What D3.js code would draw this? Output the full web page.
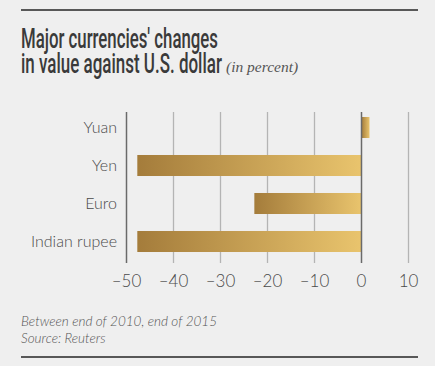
<!doctype html>
<html>
  <head>
    <meta charset="utf-8">
    <title>Major currencies' changes</title>
    <style>
      body { margin: 0; background: #efefef; }
      svg { display: block; }
      .cat { font-family: Lato, "Open Sans", sans-serif; font-weight: 300; font-size: 16px; fill: #4a4a4a; }
      .tick-label { font-family: Lato, "Open Sans", sans-serif; font-weight: 300; font-size: 17px; fill: #4a4a4a; }
      .note { font-family: Lato, "Open Sans", sans-serif; font-style: italic; font-weight: 300; font-size: 13.5px; fill: #555; }
    </style>
  </head>
  <body>
    <div id="chart"></div>
    <script src="https://cdn.jsdelivr.net/npm/d3@7"></script>
    <script>
      var currencies = ['Yuan', 'Yen', 'Euro', 'Indian rupee'];
      var changes = [1.7, -47.7, -22.8, -47.7];
      var tickValues = [-50, -40, -30, -20, -10, 0, 10];
      var titleLines = ["Major currencies' changes", "in value against U.S. dollar"];
      var notes = ['Between end of 2010, end of 2015', 'Source: Reuters'];

      var width = 435, height = 366;

      var svg = d3.select('#chart').append('svg')
        .attr('width', width)
        .attr('height', height);

      svg.append('rect').attr('width', width).attr('height', height).attr('fill', '#efefef');

      // top and bottom rules
      svg.append('rect').attr('x', 21).attr('y', 9).attr('width', 397).attr('height', 2).attr('fill', '#585858');
      svg.append('rect').attr('x', 21).attr('y', 356).attr('width', 397).attr('height', 2).attr('fill', '#585858');

      // title, squeezed horizontally to fake a condensed face
      var titleWidths = [197, 201];
      titleLines.forEach(function(line, i) {
        var g = svg.append('g');
        var t = g.append('text')
          .attr('x', 0)
          .attr('y', 0)
          .attr('font-family', 'Roboto, sans-serif')
          .attr('font-weight', 500)
          .attr('font-size', 27)
          .attr('fill', '#3a3a3a')
          .text(line);
        var w = t.node().getComputedTextLength();
        g.attr('transform', 'translate(21,' + (47.5 + i * 25) + ') scale(' + (titleWidths[i] / w) + ',1)');
      });

      svg.append('text')
        .attr('x', 226)
        .attr('y', 72)
        .attr('font-family', '"Liberation Serif", serif')
        .attr('font-style', 'italic')
        .attr('font-size', 15.5)
        .attr('fill', '#555')
        .text('(in percent)');

      var x = d3.scaleLinear().domain([-50, 10]).range([126.5, 408.5]);
      var y = d3.scaleBand().domain(currencies).range([108.5, 260.5])
        .paddingInner(0.447).paddingOuter(0.2235);

      var gridTop = 112, gridBottom = 263;

      var defs = svg.append('defs');
      var grad = defs.append('linearGradient').attr('id', 'gold').attr('x1', '0%').attr('x2', '100%');
      grad.append('stop').attr('offset', '0%').attr('stop-color', '#a47c3b');
      grad.append('stop').attr('offset', '100%').attr('stop-color', '#e9c46d');

      // light grid lines
      svg.append('g').selectAll('line')
        .data(tickValues.filter(function(v) { return v !== -50 && v !== 0; }))
        .enter().append('line')
        .attr('x1', function(d) { return x(d); })
        .attr('x2', function(d) { return x(d); })
        .attr('y1', gridTop).attr('y2', gridBottom)
        .attr('stroke', '#b4b4b4').attr('stroke-width', 1.3);

      svg.append('g').selectAll('rect')
        .data(changes)
        .enter().append('rect')
        .attr('x', function(d) { return x(Math.min(0, d)); })
        .attr('y', function(d, i) { return y(currencies[i]); })
        .attr('width', function(d) { return Math.abs(x(d) - x(0)); })
        .attr('height', y.bandwidth())
        .attr('fill', 'url(#gold)');

      // dark lines at -50 and 0
      svg.append('g').selectAll('line')
        .data([-50, 0])
        .enter().append('line')
        .attr('x1', function(d) { return x(d); })
        .attr('x2', function(d) { return x(d); })
        .attr('y1', gridTop).attr('y2', gridBottom)
        .attr('stroke', '#6a6a6a').attr('stroke-width', 1.5);

      svg.append('g').selectAll('text')
        .data(currencies)
        .enter().append('text')
        .attr('class', 'cat')
        .attr('x', 117)
        .attr('y', function(d) { return y(d) + y.bandwidth() / 2; })
        .attr('dy', '0.35em')
        .attr('text-anchor', 'end')
        .text(function(d) { return d; });

      svg.append('g').selectAll('text')
        .data(tickValues)
        .enter().append('text')
        .attr('class', 'tick-label')
        .attr('x', function(d) { return x(d); })
        .attr('y', 287)
        .attr('text-anchor', 'middle')
        .text(function(d) { return d < 0 ? '\u2013' + Math.abs(d) : String(d); });

      svg.append('g').selectAll('text')
        .data(notes)
        .enter().append('text')
        .attr('class', 'note')
        .attr('x', 21)
        .attr('y', function(d, i) { return 326 + i * 16.5; })
        .text(function(d) { return d; });
    </script>
  </body>
</html>
